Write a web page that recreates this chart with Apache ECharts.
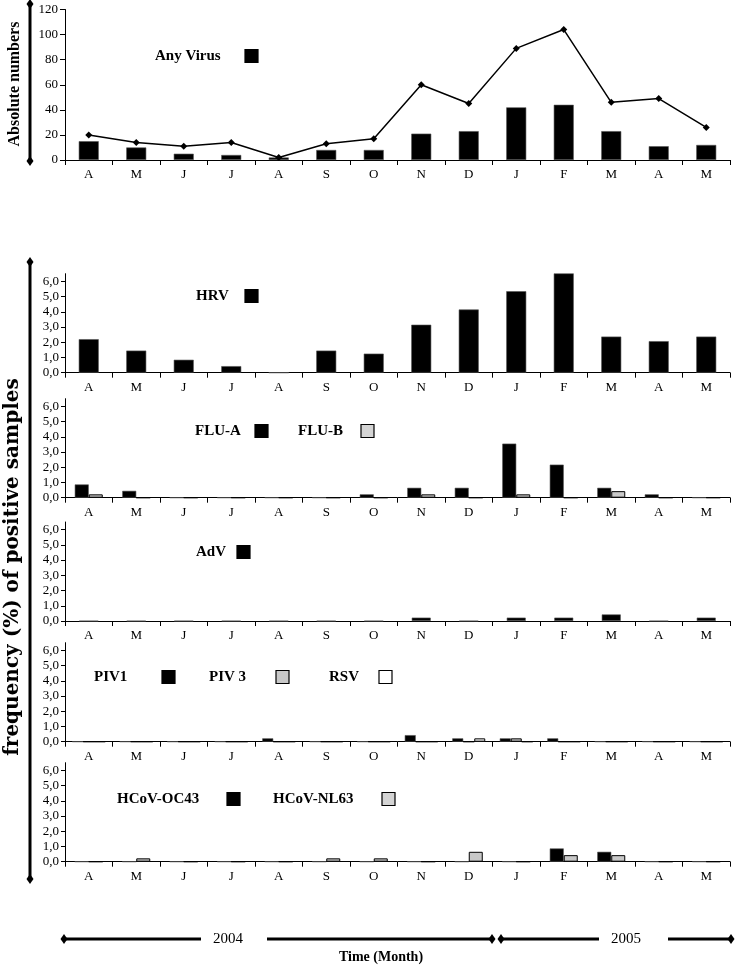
<!DOCTYPE html>
<html>
<head>
<meta charset="utf-8">
<script src="https://cdn.jsdelivr.net/npm/echarts@6/dist/echarts.min.js"></script>
<style>html,body{margin:0;padding:0;background:#fff;}#c{width:736px;height:969px;}</style>
</head>
<body>
<div id="c"></div>
<script>
const months = ['A','M','J','J','A','S','O','N','D','J','F','M','A','M'];
const anyVirus = [15,10,5,4,2,8,8,21,23,42,44,23,11,12];
const totalSamples = [20,14,11,14,2,13,17,60,45,89,104,46,49,26];
const hrv = [2.2,1.45,0.85,0.43,0,1.45,1.25,3.15,4.15,5.35,6.6,2.37,2.07,2.37];
const fluA = [0.87,0.45,0,0,0,0,0.22,0.65,0.65,3.55,2.17,0.65,0.22,0];
const fluB = [0.22,0,0,0,0,0,0,0.22,0,0.22,0,0.43,0,0];
const adv = [0,0,0,0,0,0,0,0.22,0,0.22,0.22,0.43,0,0.22];
const piv1 = [0,0,0,0,0.22,0,0,0.43,0.22,0.22,0.22,0,0,0];
const piv3 = [0,0,0,0,0,0,0,0,0,0.22,0,0,0,0];
const rsv = [0,0,0,0,0,0,0,0,0.22,0,0,0,0,0];
const oc43 = [0,0,0,0,0,0,0,0,0,0,0.87,0.65,0,0];
const nl63 = [0,0.22,0,0,0,0.22,0.22,0,0.65,0,0.43,0.43,0,0];
const pctTicks = [0,1,2,3,4,5,6];
const years = ['2004','2005'];

const FONT = 'Liberation Serif';
const chart = echarts.init(document.getElementById('c'));

const LEFT = 65, WIDTH = 665;
const gridTops = [9.5, 273.7, 398.7, 522, 642.7, 762.7];
const gridHeights = [150.5, 99, 99, 99, 99, 99];

const grids = gridTops.map((t,i)=>({left:LEFT, width:WIDTH, top:t, height:gridHeights[i]}));

const xAxes = grids.map((g,i)=>({
  type:'category', gridIndex:i, data:months,
  axisLine:{lineStyle:{color:'#000',width:1}},
  axisTick:{show:true, interval:0, length:5, lineStyle:{color:'#000'}},
  axisLabel:{color:'#000', fontFamily:FONT, fontSize:13, margin:8, interval:0}
}));

const yAxes = grids.map((g,i)=> i===0 ? {
  type:'value', gridIndex:0, min:0, max:120, interval:20,
  splitLine:{show:false},
  axisLine:{show:true, lineStyle:{color:'#000',width:1}},
  axisTick:{show:true, length:5, lineStyle:{color:'#000'}},
  axisLabel:{color:'#000', fontFamily:FONT, fontSize:13, margin:7}
} : {
  type:'value', gridIndex:i, min:0, max:6.5,
  splitLine:{show:false},
  axisLine:{show:true, lineStyle:{color:'#000',width:1}},
  axisTick:{show:true, length:4, customValues:pctTicks, lineStyle:{color:'#000'}},
  axisLabel:{color:'#000', fontFamily:FONT, fontSize:13, margin:6, customValues:pctTicks,
    formatter:v=>v.toFixed(1).replace('.', ',')}
});

const blackStyle = {color:'#000', borderColor:'#555', borderWidth:0.6};
const greyStyle = {color:'#c8c8c8', borderColor:'#000', borderWidth:1};
const whiteStyle = {color:'#f4f4f4', borderColor:'#000', borderWidth:1};

function bar(name, data, idx, style, w){
  return {type:'bar', name, data, xAxisIndex:idx, yAxisIndex:idx, barWidth:w, barGap:'0%', itemStyle:style, silent:true};
}

const series = [
  bar('Any Virus', anyVirus, 0, blackStyle, 20),
  {type:'line', name:'Total', data:totalSamples, xAxisIndex:0, yAxisIndex:0, symbol:'diamond', symbolSize:7,
   lineStyle:{color:'#000', width:1.5}, itemStyle:{color:'#000'}, silent:true},
  bar('HRV', hrv, 1, blackStyle, 20),
  bar('FLU-A', fluA, 2, blackStyle, 14),
  bar('FLU-B', fluB, 2, greyStyle, 14),
  bar('AdV', adv, 3, blackStyle, 19),
  bar('PIV1', piv1, 4, blackStyle, 11),
  bar('PIV 3', piv3, 4, greyStyle, 11),
  bar('RSV', rsv, 4, whiteStyle, 11),
  bar('HCoV-OC43', oc43, 5, blackStyle, 14),
  bar('HCoV-NL63', nl63, 5, greyStyle, 14)
];

// Graphic decorations
const g = [];
function diamond(x,y){
  g.push({type:'polygon', shape:{points:[[x,y-5],[x+3.5,y],[x,y+5],[x-3.5,y]]}, style:{fill:'#000'}});
}
function vline(x,y1,y2){
  g.push({type:'line', shape:{x1:x,y1:y1,x2:x,y2:y2}, style:{stroke:'#000', lineWidth:3}});
  diamond(x,y1); diamond(x,y2);
}
function hline(x1,x2,y){
  g.push({type:'line', shape:{x1:x1,y1:y,x2:x2,y2:y}, style:{stroke:'#000', lineWidth:3}});
}
vline(30, 4, 161);
vline(30, 262, 879);

// timeline
hline(64, 201, 939); diamond(64, 939);
hline(267, 492, 939); diamond(492, 939);
hline(501, 599, 939); diamond(501, 939);
hline(668, 731, 939); diamond(731, 939);
g.push({type:'text', x:228, y:939, style:{text:years[0], font:'15px '+FONT, fill:'#000', align:'center', verticalAlign:'middle'}});
g.push({type:'text', x:626, y:939, style:{text:years[1], font:'15px '+FONT, fill:'#000', align:'center', verticalAlign:'middle'}});
g.push({type:'text', x:381, y:957, style:{text:'Time (Month)', font:'bold 14px '+FONT, fill:'#000', align:'center', verticalAlign:'middle'}});

// axis titles
g.push({type:'text', x:15, y:84, rotation:Math.PI/2, style:{text:'Absolute numbers', font:'bold 16px '+FONT, fill:'#000', align:'center', verticalAlign:'middle'}});
g.push({type:'text', x:13, y:567, rotation:Math.PI/2, style:{text:'frequency (%) of positive samples', font:'bold 20px DejaVu Serif', fill:'#000', align:'center', verticalAlign:'middle'}});

// legends
function legendItem(label, tx, ty, bx, fill, stroke){
  g.push({type:'text', x:tx, y:ty, style:{text:label, font:'bold 15px '+FONT, fill:'#000', align:'left', verticalAlign:'middle'}});
  g.push({type:'rect', shape:{x:bx, y:ty-6.5, width:13, height:13}, style:{fill:fill, stroke:stroke, lineWidth:1.2}});
}
legendItem('Any Virus', 155, 56, 245, '#000', '#000');
legendItem('HRV', 196, 296, 245, '#000', '#000');
legendItem('FLU-A', 195, 431, 255, '#000', '#000');
legendItem('FLU-B', 298, 431, 361, '#d4d4d4', '#000');
legendItem('AdV', 196, 552, 237, '#000', '#000');
legendItem('PIV1', 94, 677, 162, '#000', '#000');
legendItem('PIV 3', 209, 677, 276, '#c8c8c8', '#000');
legendItem('RSV', 329, 677, 379, '#fff', '#000');
legendItem('HCoV-OC43', 117, 799, 227, '#000', '#000');
legendItem('HCoV-NL63', 273, 799, 382, '#d4d4d4', '#000');

chart.setOption({
  animation:false,
  backgroundColor:'#fff',
  grid:grids, xAxis:xAxes, yAxis:yAxes, series:series,
  graphic:g
});
</script>
</body>
</html>
